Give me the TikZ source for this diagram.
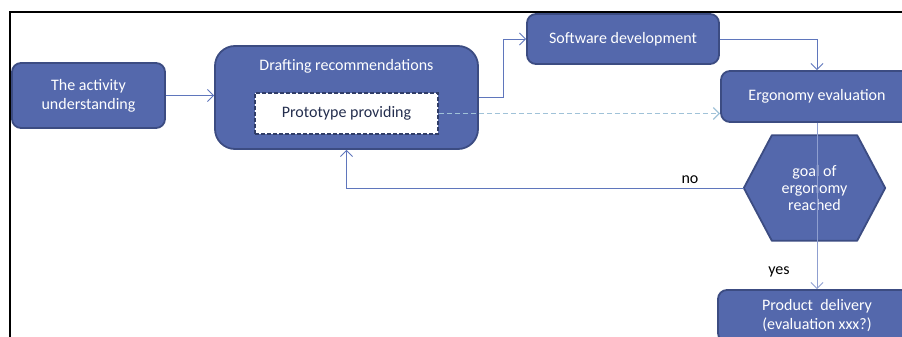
\documentclass[tikz,border=0pt]{standalone}
\usepackage{fontspec}
\setmainfont{Carlito}
\usetikzlibrary{arrows.meta,backgrounds}

\definecolor{boxfill}{RGB}{84,104,172}
\definecolor{boxline}{RGB}{60,76,130}
\definecolor{arrline}{RGB}{95,118,188}
\definecolor{dashline}{RGB}{160,194,216}

\begin{document}
\begin{tikzpicture}[
        x=1pt, y=-1pt,
        font=\fontsize{16}{19}\selectfont,
        box/.style={
        draw=boxline, line width=1.8pt,
        fill=boxfill, text=white,
        rounded corners=9pt, align=center},
        protobox/.style={
        draw=boxline!80!black, line width=1.8pt,
        dash pattern=on 4pt off 2pt,
        fill=white, text=boxline!60!black},
        arr/.style={
        draw=arrline, line width=0.9pt,
        -{Straight Barb[length=6pt,width=12pt]}},
        ]

        \useasboundingbox (0,0) rectangle (902,337);
        \draw[line width=1.6pt] (10,337) |- (902,12);

        \node (act) [box, minimum width=153, minimum height=65]  at (88.5,95.5){The activity\\understanding};
        \node (draft) [box, rounded corners=20pt, minimum width=263, minimum height=103]  at (346.5,97.5){};
        \node (draftlbl) [text=white]  at (346.5,66){Drafting recommendations};
        \node (proto) [protobox, minimum width=183, minimum height=41]  at (346.5,113.5){Prototype providing};
        \node (soft) [box, minimum width=192, minimum height=50]  at (623,39){Software development};
        \node (ergo) [box, minimum width=192, minimum height=51]  at (817,96.5){Ergonomy evaluation};
        \node (goal) [text=white, align=center, minimum width=141, minimum height=105,
        font=\fontsize{16}{17}\selectfont]  at (814.5,188){goal of\\ergonomy\\reached};
        \node (deliv) [box, minimum width=198, minimum height=52]  at (817,316){Product~ delivery\\(evaluation xxx?)};

        \begin{scope}[on background layer]
        \draw[draw=boxline, line width=1.8pt, fill=boxfill, line join=round]
        (goal.west) -- ([xshift=28]goal.north west) -- ([xshift=-28]goal.north east)
        -- (goal.east) -- ([xshift=-28]goal.south east) -- ([xshift=28]goal.south west) -- cycle;
        \end{scope}

        \draw[arr] (act.east) -- (act.east -| draft.west);
        \draw[arr] (draft.east) -- ++(25,0) |- (soft.west);
        \draw[arr] (soft.east) -| (ergo.north);
        \draw[arr, draw=dashline, line width=1.2pt, dash pattern=on 5pt off 3pt] (proto.east) -- (proto.east -| ergo.west);
        \draw[arr, draw=arrline!70!white] (ergo.south) -- (deliv.north);
        \draw[arr] (goal.west) -| (draft.south);

        \node (no) at (690,180) {no};
        \node (yes) at (779,272) {yes};
    \end{tikzpicture}
\end{document}
